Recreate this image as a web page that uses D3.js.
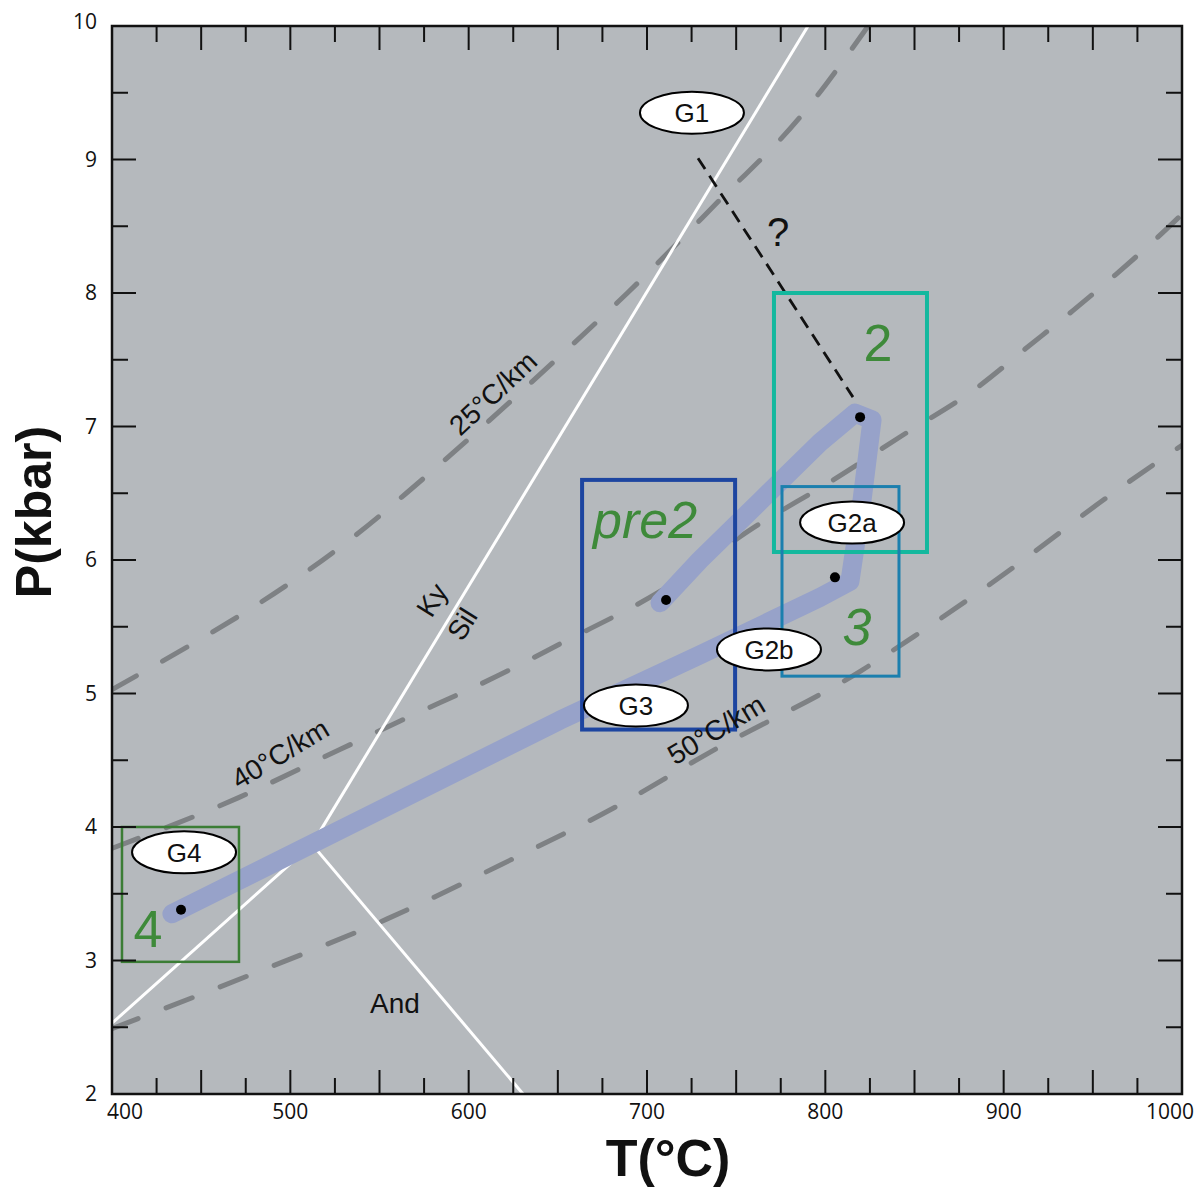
<!DOCTYPE html>
<html>
<head>
<meta charset="utf-8">
<script src="https://cdn.jsdelivr.net/npm/d3@7"></script>
<style>
  body { margin: 0; background: #fff; }
  svg { display: block; }
  .tick-label { font-family: "Open Sans", sans-serif; font-size: 21px; fill: #111; }
  .ann { font-family: "Liberation Sans", Arial, sans-serif; fill: #111; }
</style>
</head>
<body>
<div id="chart"></div>
<script>
// ---- data (T in °C, P in kbar) ----
const xTicks = [400, 500, 600, 700, 800, 900, 1000];
const yTicks = [2, 3, 4, 5, 6, 7, 8, 9, 10];

// geotherms
const geo25 = [[400,5.03],[550,6.33],[565,6.50],[591,6.80],[653,7.55],[689,8.00],[741,8.70],[786,9.32],[824,10]];
const geo40 = [[400,3.84],[471,4.22],[523,4.55],[561,4.79],[622,5.17],[651,5.37],[708,5.77],[763,6.27],[802,6.58],[844,6.94],[886,7.30],[912,7.58],[939,7.87],[963,8.14],[989,8.45],[1000,8.59]];
const geo50 = [[400,2.49],[479,2.90],[554,3.31],[623,3.75],[681,4.14],[734,4.55],[820,5.17],[850,5.43],[905,5.94],[957,6.46],[1000,6.86]];
const geoLabels = [
  {text: "25°C/km", t: 613.6, p: 7.25, rot: -43},
  {text: "40°C/km", t: 494.2, p: 4.55, rot: -31},
  {text: "50°C/km", t: 738.7, p: 4.73, rot: -31}
];

// aluminosilicate reactions
const kySil  = [[512.2,3.87],[790.3,10]];
const kyAnd  = [[400,2.53],[512.2,3.87]];
const andSil = [[512.2,3.87],[630.5,2]];
const phaseLabels = [
  {text: "Ky",  t: 579.4, p: 5.70, rot: -58},
  {text: "Sil", t: 596.3, p: 5.52, rot: -58},
  {text: "And", t: 558.7, p: 2.68, rot: 0}
];

// P-T path
const ptPath = [[433.6,3.35],[651.2,4.80],[729.7,5.29],[797,5.72],[813.8,5.84],[820.6,6.45],[826.2,7.05],[816.6,7.10],[797,6.88],[763.4,6.44],[729.7,6.00],[707.3,5.68]];
const ptDots = [[438.7,3.38],[710.7,5.70],[805.4,5.87],[819.5,7.07]];
const g1Link = [[728.6,9.01],[815.5,7.22]];

// stage boxes
const boxes = [
  {name: "2",    t0: 771.2, t1: 857.0, p0: 6.06, p1: 8.00, color: "#14b89e", w: 4},
  {name: "pre2", t0: 663.6, t1: 749.4, p0: 4.73, p1: 6.60, color: "#1d45a0", w: 4},
  {name: "3",    t0: 775.7, t1: 841.3, p0: 5.13, p1: 6.55, color: "#1b7fae", w: 3},
  {name: "4",    t0: 405.6, t1: 471.2, p0: 2.99, p1: 4.00, color: "#3b7d35", w: 2.5}
];
const stageLabels = [
  {text: "2",    t: 829.5, p: 7.63, italic: false},
  {text: "pre2", t: 698.9, p: 6.30, italic: true},
  {text: "3",    t: 817.8, p: 5.50, italic: true},
  {text: "4",    t: 420.2, p: 3.24, italic: false}
];

// sample ellipses
const samples = [
  {name: "G1",  t: 725.2, p: 9.35},
  {name: "G2a", t: 815.0, p: 6.28},
  {name: "G2b", t: 768.4, p: 5.33},
  {name: "G3",  t: 693.8, p: 4.91},
  {name: "G4",  t: 440.4, p: 3.81}
];

// ---- layout ----
const W = 1197, H = 1191;
const X0 = 112, X1 = 1182, Y0 = 26, Y1 = 1094;

const x = d3.scaleLinear().domain([400, 1000]).range([X0, X1]);
const y = d3.scaleLinear().domain([2, 10]).range([Y1, Y0]);

const svg = d3.select("#chart").append("svg").attr("width", W).attr("height", H);

svg.append("defs").append("clipPath").attr("id", "plot")
  .append("rect").attr("x", X0).attr("y", Y0).attr("width", X1 - X0).attr("height", Y1 - Y0);

svg.append("rect")
  .attr("x", X0).attr("y", Y0).attr("width", X1 - X0).attr("height", Y1 - Y0)
  .attr("fill", "#b5b9bd");

const plot = svg.append("g").attr("clip-path", "url(#plot)");
const line = d3.line().x(d => x(d[0])).y(d => y(d[1]));
const smooth = d3.line().x(d => x(d[0])).y(d => y(d[1])).curve(d3.curveMonotoneX);

// geotherms
[geo25, geo40, geo50].forEach(g => {
  plot.append("path").attr("d", smooth(g))
    .attr("fill", "none").attr("stroke", "#7e8184").attr("stroke-width", 5)
    .attr("stroke-dasharray", "28,30").attr("stroke-linecap", "round");
});

// reaction lines
[kySil, kyAnd, andSil].forEach(l => {
  plot.append("path").attr("d", line(l))
    .attr("fill", "none").attr("stroke", "#fff").attr("stroke-width", 3);
});

// P-T path
plot.append("path").attr("d", line(ptPath))
  .attr("fill", "none").attr("stroke", "#97a2c9").attr("stroke-width", 19)
  .attr("stroke-linecap", "round").attr("stroke-linejoin", "round");

// G1 link
plot.append("path").attr("d", line(g1Link))
  .attr("fill", "none").attr("stroke", "#111").attr("stroke-width", 2.8)
  .attr("stroke-dasharray", "13,8");

// boxes
plot.selectAll("rect.box").data(boxes).join("rect")
  .attr("class", "box")
  .attr("x", d => x(d.t0)).attr("y", d => y(d.p1))
  .attr("width", d => x(d.t1) - x(d.t0)).attr("height", d => y(d.p0) - y(d.p1))
  .attr("fill", "none").attr("stroke", d => d.color).attr("stroke-width", d => d.w);

// dots
plot.selectAll("circle.dot").data(ptDots).join("circle")
  .attr("class", "dot")
  .attr("cx", d => x(d[0])).attr("cy", d => y(d[1])).attr("r", 5).attr("fill", "#000");

// text labels on lines
plot.selectAll("text.geo").data(geoLabels.concat(phaseLabels)).join("text")
  .attr("class", "ann geo")
  .attr("transform", d => `translate(${x(d.t)},${y(d.p)}) rotate(${d.rot})`)
  .attr("text-anchor", "middle").attr("dy", "0.35em")
  .style("font-size", "28px")
  .text(d => d.text);

plot.append("text").attr("class", "ann")
  .attr("x", x(773.5)).attr("y", y(8.46)).attr("dy", "0.35em")
  .attr("text-anchor", "middle").style("font-size", "40px").text("?");

// stage labels
plot.selectAll("text.stage").data(stageLabels).join("text")
  .attr("class", "ann stage")
  .attr("x", d => x(d.t)).attr("y", d => y(d.p)).attr("dy", "0.35em")
  .attr("text-anchor", "middle")
  .style("font-size", "52px").style("fill", "#3e8a3a")
  .style("font-style", d => d.italic ? "italic" : "normal")
  .text(d => d.text);

// sample ellipses
const smp = plot.selectAll("g.sample").data(samples).join("g")
  .attr("class", "sample")
  .attr("transform", d => `translate(${x(d.t)},${y(d.p)})`);
smp.append("ellipse").attr("rx", 52).attr("ry", 21)
  .attr("fill", "#fff").attr("stroke", "#000").attr("stroke-width", 2);
smp.append("text").attr("class", "ann")
  .attr("text-anchor", "middle").attr("dy", "0.36em")
  .style("font-size", "26px").text(d => d.name);

// ---- axes: ticks on all four sides, pointing inward ----
const frame = svg.append("g");
const xMinor = d3.range(400, 1001, 25);
const yMinor = d3.range(2, 10.01, 0.5);

frame.selectAll("line.xt").data(xMinor.filter(v => v > 400 && v < 1000)).join("line")
  .attr("class", "xt")
  .attr("x1", d => x(d)).attr("x2", d => x(d))
  .attr("y1", Y1).attr("y2", d => Y1 - (d % 50 === 0 ? 24 : 16))
  .attr("stroke", "#111").attr("stroke-width", 2);
frame.selectAll("line.xtt").data(xMinor.filter(v => v > 400 && v < 1000)).join("line")
  .attr("class", "xtt")
  .attr("x1", d => x(d)).attr("x2", d => x(d))
  .attr("y1", Y0).attr("y2", d => Y0 + (d % 50 === 0 ? 24 : 16))
  .attr("stroke", "#111").attr("stroke-width", 2);
frame.selectAll("line.yt").data(yMinor.filter(v => v > 2 && v < 10)).join("line")
  .attr("class", "yt")
  .attr("y1", d => y(d)).attr("y2", d => y(d))
  .attr("x1", X0).attr("x2", d => X0 + (d % 1 === 0 ? 24 : 16))
  .attr("stroke", "#111").attr("stroke-width", 2);
frame.selectAll("line.ytr").data(yMinor.filter(v => v > 2 && v < 10)).join("line")
  .attr("class", "ytr")
  .attr("y1", d => y(d)).attr("y2", d => y(d))
  .attr("x1", X1).attr("x2", d => X1 - (d % 1 === 0 ? 24 : 16))
  .attr("stroke", "#111").attr("stroke-width", 2);

frame.append("rect")
  .attr("x", X0).attr("y", Y0).attr("width", X1 - X0).attr("height", Y1 - Y0)
  .attr("fill", "none").attr("stroke", "#111").attr("stroke-width", 2.5);

// tick labels
svg.selectAll("text.xl").data(xTicks).join("text")
  .attr("class", "tick-label xl")
  .attr("x", d => x(d) + (d === 400 ? 13 : d === 1000 ? -12 : 0))
  .attr("y", Y1 + 25)
  .attr("text-anchor", "middle")
  .text(d => d);
svg.selectAll("text.yl").data(yTicks).join("text")
  .attr("class", "tick-label yl")
  .attr("x", X0 - 15)
  .attr("y", d => y(d) - (d === 10 ? 4 : 0))
  .attr("dy", "0.35em")
  .attr("text-anchor", "end")
  .text(d => d);

// axis titles
svg.append("text").attr("class", "ann")
  .attr("transform", "translate(51,512) rotate(-90)")
  .attr("text-anchor", "middle")
  .style("font-size", "50px").style("font-weight", "bold")
  .text("P(kbar)");
svg.append("text").attr("class", "ann")
  .attr("x", 668).attr("y", 1176)
  .attr("text-anchor", "middle")
  .style("font-size", "52px").style("font-weight", "bold")
  .text("T(°C)");
</script>
</body>
</html>
